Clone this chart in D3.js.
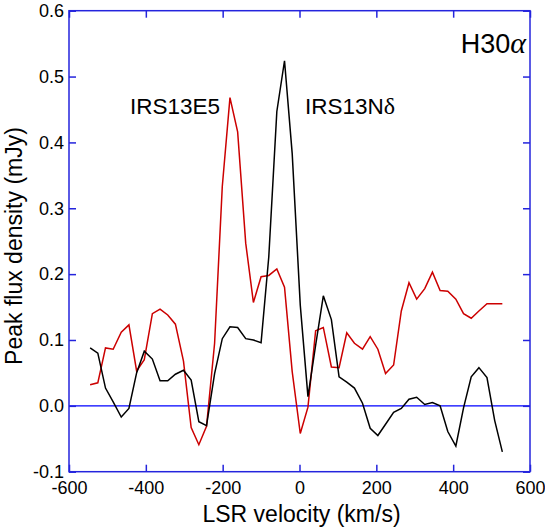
<!DOCTYPE html>
<html>
<head>
<meta charset="utf-8">
<script src="https://cdn.jsdelivr.net/npm/d3@7"></script>
<style>
  html, body { margin: 0; padding: 0; background: #fff; }
  svg { display: block; }
  text { font-family: "Liberation Sans", Arial, sans-serif; fill: #000; }
</style>
</head>
<body>
<svg id="chart" width="545" height="532"></svg>
<script>
// LSR velocity channels (km/s)
const velocities = [-545,-525,-505,-485,-464,-444,-424,-404,-383,-363,-343,-323,-302,-282,-262,-242,-221,-201,-181,-161,-140,-120,-100,-80,-59,-39,-19,2,22,42,62,83,103,123,143,164,184,204,224,245,265,285,305,326,346,366,386,407,427,447,467,488,508,528];

// IRS13E5 (red) peak flux density, mJy
const irs13e5 = [0.032,0.035,0.088,0.086,0.112,0.123,0.053,0.070,0.140,0.147,0.138,0.124,0.068,-0.033,-0.059,-0.031,0.095,0.333,0.468,0.416,0.247,0.157,0.196,0.198,0.208,0.180,0.052,-0.042,-0.002,0.114,0.119,0.059,0.058,0.111,0.095,0.086,0.105,0.086,0.049,0.062,0.144,0.187,0.162,0.178,0.203,0.175,0.174,0.162,0.140,0.133,0.144,0.155,0.155,0.155];

// IRS13Nδ (black) peak flux density, mJy
const irs13nd = [0.088,0.080,0.027,0.006,-0.017,-0.004,0.050,0.083,0.071,0.038,0.038,0.048,0.054,0.039,-0.024,-0.030,0.049,0.102,0.120,0.119,0.102,0.100,0.096,0.226,0.447,0.524,0.383,0.153,0.014,0.092,0.167,0.131,0.044,0.036,0.027,0.004,-0.034,-0.045,-0.028,-0.010,-0.004,0.010,0.013,0.002,0.005,0.000,-0.039,-0.061,-0.003,0.044,0.058,0.043,-0.022,-0.070];

const xTicks = [-600,-400,-200,0,200,400,600];
const yTicks = [-0.1,0.0,0.1,0.2,0.3,0.4,0.5,0.6];
const xDomain = [-600, 600];
const yDomain = [-0.1, 0.6];

const svg = d3.select("#chart");
const W = 545, H = 532;
const m = { left: 69, top: 10.7, right: 15, bottom: 60.3 };
const iw = W - m.left - m.right, ih = H - m.top - m.bottom;

const x = d3.scaleLinear().domain(xDomain).range([m.left, m.left + iw]);
const y = d3.scaleLinear().domain(yDomain).range([m.top + ih, m.top]);

const frameColor = "#2424dd";

// zero line
svg.append("line")
  .attr("x1", x(xDomain[0])).attr("x2", x(xDomain[1]))
  .attr("y1", y(0)).attr("y2", y(0))
  .attr("stroke", "#0000ff").attr("stroke-width", 1.2);

// series
const line = d3.line().x((d, i) => x(velocities[i])).y(d => y(d));
svg.append("path").datum(irs13e5)
  .attr("d", line).attr("fill", "none")
  .attr("stroke", "#cc0000").attr("stroke-width", 1.5).attr("stroke-linejoin", "miter");
svg.append("path").datum(irs13nd)
  .attr("d", line).attr("fill", "none")
  .attr("stroke", "#000").attr("stroke-width", 1.5).attr("stroke-linejoin", "miter");

// axes
function styleAxis(g) {
  g.select(".domain").remove();
  g.selectAll(".tick line").attr("stroke", frameColor).attr("stroke-width", 1.5);
  g.selectAll(".tick text").style("font-size", "18px").style("font-family", '"Liberation Sans", Arial, sans-serif').attr("fill", "#000");
}
svg.append("g").attr("transform", `translate(0,${m.top + ih})`)
  .call(d3.axisBottom(x).tickValues(xTicks).tickSizeInner(-7).tickSizeOuter(0).tickPadding(9.5).tickFormat(d => String(d)))
  .call(styleAxis);
svg.append("g").attr("transform", `translate(0,${m.top})`)
  .call(d3.axisTop(x).tickValues(xTicks).tickSizeInner(-7).tickSizeOuter(0).tickFormat(""))
  .call(styleAxis);
svg.append("g").attr("transform", `translate(${m.left},0)`)
  .call(d3.axisLeft(y).tickValues(yTicks).tickSizeInner(-7).tickSizeOuter(0).tickPadding(5).tickFormat(d => d.toFixed(1)))
  .call(styleAxis);
svg.append("g").attr("transform", `translate(${m.left + iw},0)`)
  .call(d3.axisRight(y).tickValues(yTicks).tickSizeInner(-7).tickSizeOuter(0).tickFormat(""))
  .call(styleAxis);

// frame
svg.append("rect")
  .attr("x", m.left).attr("y", m.top).attr("width", iw).attr("height", ih)
  .attr("fill", "none").attr("stroke", frameColor).attr("stroke-width", 1.5);

// axis titles
svg.append("text")
  .attr("x", m.left + iw / 2 + 2).attr("y", 522)
  .attr("text-anchor", "middle").style("font-size", "23px")
  .text("LSR velocity (km/s)");
svg.append("text")
  .attr("transform", `translate(22,${246}) rotate(-90)`)
  .attr("text-anchor", "middle").style("font-size", "23px")
  .text("Peak flux density (mJy)");

// annotations
svg.append("text").attr("x", 130).attr("y", 114).style("font-size", "22.5px").text("IRS13E5");
const nd = svg.append("text").attr("x", 305).attr("y", 114).style("font-size", "22.5px");
nd.append("tspan").text("IRS13N");
nd.append("tspan").style("font-family", '"Liberation Serif", "Times New Roman", serif').style("font-size", "24px").text("δ");

const h = svg.append("text").attr("x", 526).attr("y", 53).attr("text-anchor", "end").style("font-size", "27px");
h.append("tspan").text("H30");
h.append("tspan").style("font-family", '"Liberation Serif", "Times New Roman", serif').style("font-style", "italic").style("font-size", "30px").text("α");
</script>
</body>
</html>
